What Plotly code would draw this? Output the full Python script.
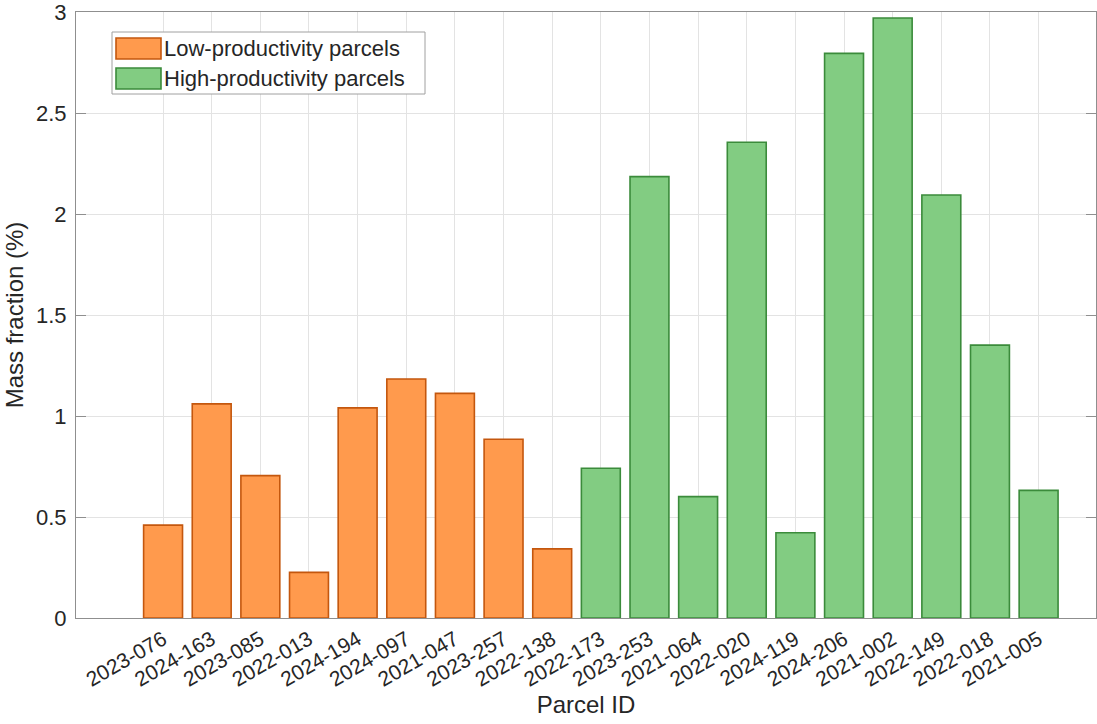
import numpy as np
import plotly.graph_objects as go

# Parcel IDs and mass fractions (%) for each productivity group
low_ids = ["2023-076", "2024-163", "2023-085", "2022-013", "2024-194",
           "2024-097", "2021-047", "2023-257", "2022-138"]
low_vals = [0.46, 1.06, 0.705, 0.226, 1.04, 1.183, 1.112, 0.885, 0.342]

high_ids = ["2022-173", "2023-253", "2021-064", "2022-020", "2024-119",
            "2024-206", "2021-002", "2022-149", "2022-018", "2021-005"]
high_vals = [0.741, 2.185, 0.601, 2.355, 0.422, 2.795, 2.97, 2.094, 1.351, 0.632]

y_ticks = [0, 0.5, 1, 1.5, 2, 2.5, 3]
y_tick_text = ["0", "0.5", "1", "1.5", "2", "2.5", "3"]

all_ids = low_ids + high_ids
x_low = np.arange(len(low_ids))
x_high = np.arange(len(low_ids), len(all_ids))

FONT = "Liberation Sans, Arial, Helvetica, sans-serif"
TXT = "#262626"
AX = "#8f8f8f"
GRID = "#e3e3e3"

LOW_FILL, LOW_EDGE = "#FF9A4D", "#C4570E"
HIGH_FILL, HIGH_EDGE = "#82CC82", "#3B8B3B"

W, H = 1097, 724
ML, MR, MT, MB = 76, 1, 12, 106
PW, PH = W - ML - MR, H - MT - MB

fig = go.Figure()
fig.add_trace(go.Bar(x=x_low, y=low_vals, width=0.8, name="Low-productivity parcels",
                     marker=dict(color=LOW_FILL, line=dict(color=LOW_EDGE, width=1.6)),
                     showlegend=False))
fig.add_trace(go.Bar(x=x_high, y=high_vals, width=0.8, name="High-productivity parcels",
                     marker=dict(color=HIGH_FILL, line=dict(color=HIGH_EDGE, width=1.6)),
                     showlegend=False))

x_range = [-1.79, len(all_ids) - 1 + 1.18]


def px_x(p):
    return (p - ML) / PW


def px_y(p):
    return 1 - (p - MT) / PH


# Legend box drawn in pixel terms relative to the plot area
shapes = [dict(type="rect", xref="paper", yref="paper",
               x0=px_x(112), x1=px_x(425), y0=px_y(94), y1=px_y(32),
               line=dict(color="#a0a0a0", width=1), fillcolor="white", layer="above")]
annotations = []
entries = [("Low-productivity parcels", LOW_FILL, LOW_EDGE, 38),
           ("High-productivity parcels", HIGH_FILL, HIGH_EDGE, 68)]
for label, fill, edge, top in entries:
    shapes.append(dict(type="rect", xref="paper", yref="paper",
                       x0=px_x(116), x1=px_x(161), y0=px_y(top + 21), y1=px_y(top),
                       line=dict(color=edge, width=1.6), fillcolor=fill, layer="above"))
    annotations.append(dict(xref="paper", yref="paper", x=px_x(162), y=px_y(top + 10.5),
                            text=label, showarrow=False, xanchor="left", yanchor="middle",
                            font=dict(family=FONT, size=22, color=TXT)))

fig.update_layout(
    width=W, height=H,
    margin=dict(l=ML, r=MR, t=MT, b=MB),
    paper_bgcolor="white", plot_bgcolor="white",
    bargap=0.2,
    showlegend=False,
    font=dict(family=FONT, size=20, color=TXT),
    xaxis=dict(
        range=x_range,
        tickmode="array", tickvals=list(range(len(all_ids))), ticktext=all_ids,
        tickangle=-30, tickfont=dict(size=21, color=TXT),
        ticks="", showgrid=True, gridcolor=GRID, gridwidth=1,
        showline=True, linecolor=AX, linewidth=1.2, mirror=True,
        zeroline=False,
        title=dict(text="Parcel ID", font=dict(size=24, color=TXT), standoff=0),
    ),
    xaxis2=dict(
        range=x_range, overlaying="x", side="top", matches="x",
        tickmode="array", tickvals=list(range(len(all_ids))),
        ticks="inside", ticklen=10, tickcolor=AX, tickwidth=1.2,
        showticklabels=False, showgrid=False, showline=False, zeroline=False,
    ),
    yaxis=dict(
        range=[0, 3],
        tickmode="array", tickvals=y_ticks, ticktext=y_tick_text,
        tickfont=dict(size=22, color=TXT),
        ticks="inside", ticklen=10, tickcolor=AX, tickwidth=1.2,
        showgrid=True, gridcolor=GRID, gridwidth=1,
        showline=True, linecolor=AX, linewidth=1.2, mirror="ticks",
        zeroline=False, ticklabelstandoff=4, ticklabeloverflow="allow",
        title=dict(text="Mass fraction (%)", font=dict(size=24, color=TXT), standoff=5),
    ),
    shapes=shapes,
    annotations=annotations,
)

fig.write_html("out.html")
